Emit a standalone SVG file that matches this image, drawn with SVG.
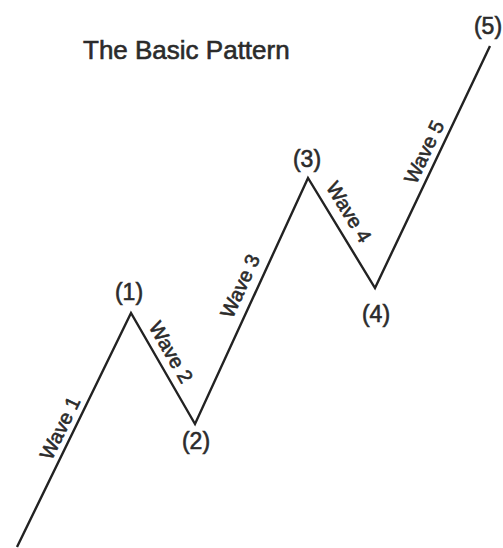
<svg xmlns="http://www.w3.org/2000/svg" width="503" height="548" viewBox="0 0 503 548">
<style>
text{font-family:"Liberation Sans",Arial,sans-serif;fill:#2b2b2b;stroke:#2b2b2b;stroke-width:0.6}
.pt{font-size:23px;text-anchor:middle}
.wv{font-size:20px;text-anchor:middle}
.ln{fill:none;stroke:#222;stroke-width:2.4;stroke-linejoin:miter}
</style>
<rect width="503" height="548" fill="#fff"/>
<text id="title" x="83" y="59" style="font-size:26px">The Basic Pattern</text>
<g id="connectors">
<polyline class="ln" points="17,547 131,313 195,424 308,178 375,288 490,46"/>
</g>
<g id="p1"><text class="pt" x="129" y="300">(1)</text></g>
<g id="p2"><text class="pt" x="196" y="449">(2)</text></g>
<g id="p3"><text class="pt" x="307" y="167">(3)</text></g>
<g id="p4"><text class="pt" x="376" y="322">(4)</text></g>
<g id="p5"><text class="pt" x="488" y="34">(5)</text></g>
<g id="w1"><text class="wv" transform="translate(60,428) rotate(-64)" y="7">Wave 1</text></g>
<g id="w2"><text class="wv" transform="translate(171,352) rotate(60)" y="7">Wave 2</text></g>
<g id="w3"><text class="wv" transform="translate(240,286) rotate(-65.3)" y="7">Wave 3</text></g>
<g id="w4"><text class="wv" transform="translate(349,212) rotate(58.7)" y="7">Wave 4</text></g>
<g id="w5"><text class="wv" transform="translate(424,152) rotate(-64.6)" y="7">Wave 5</text></g>
</svg>
